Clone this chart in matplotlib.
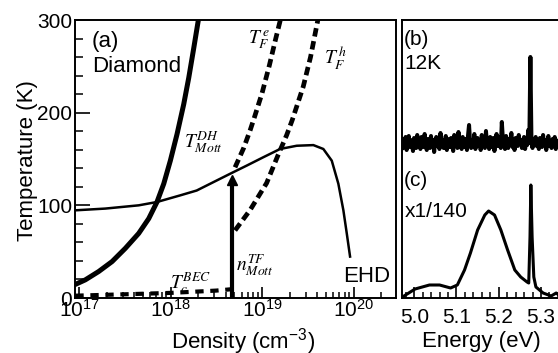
import numpy as np
import matplotlib
matplotlib.use("Agg")
import matplotlib.pyplot as plt
from matplotlib.ticker import MultipleLocator, LogLocator, NullFormatter

plt.rcParams["font.family"] = ["Liberation Sans", "DejaVu Sans"]

# ---- panel (a): temperature (K) vs log10 density ----
# T_Mott^DH (thick solid)
dh_logn = [16.956, 17.069, 17.215, 17.361, 17.506, 17.652, 17.762, 17.852, 17.926,
           17.998, 18.071, 18.144, 18.199, 18.254, 18.304]
dh_T = [14.5, 19.6, 28.6, 39.3, 53.6, 69.7, 85.7, 103.6, 123.3,
        148.2, 176.8, 209, 237.6, 269.8, 300]

# thin solid curve that ends at the EHD label
ehd_logn = [16.956, 17.287, 17.652, 17.852, 18.104, 18.286, 18.468, 18.650, 18.833,
            19.014, 19.197, 19.379, 19.561, 19.670, 19.762, 19.834, 19.889, 19.926, 19.962]
ehd_T = [94.6, 96.5, 100, 103.6, 110.7, 116, 125, 134, 142.9,
         151.9, 160.8, 164.3, 165, 160.8, 148.2, 123.3, 94.6, 69.7, 44.7]

# Fermi temperatures (thick dashed)
tfe_logn = [18.705, 18.80, 18.87, 18.92, 19.00, 19.08, 19.15, 19.20]
tfe_T = [141, 162, 181, 196, 221, 251, 280, 300]
tfh_logn = [18.705, 18.87, 19.05, 19.17, 19.27, 19.33, 19.45, 19.53, 19.61]
tfh_T = [73, 95, 124, 153, 176, 192, 228, 260, 300]

# BEC critical temperature (dashed, near the bottom)
bec_logn = [16.96, 17.5, 18.0, 18.5, 18.67]
bec_T = [2.5, 4, 5.5, 8, 9.5]

# Mott density (vertical line with arrow head)
mott_logn = 18.669
mott_T = 131

# ---- panels (b), (c): spectra, intensity in arbitrary units ----
b_E0, b_E1 = 4.972, 5.345
b_I = [150, 159, 153, 161, 148, 156, 162, 151, 158, 154,
       147, 160, 155, 150, 163, 152, 157, 149, 161, 155,
       151, 164, 154, 148, 159, 156, 150, 162, 153, 158,
       146, 157, 161, 152, 155, 149, 165, 153, 158, 150,
       156, 162, 148, 155, 159, 151, 160, 154, 147, 163,
       153, 157, 150, 166, 152, 158, 149, 161, 155, 151,
       159, 148, 162, 173, 155, 150, 158, 153, 164, 149,
       156, 160, 152, 157, 148, 163, 154, 159, 150, 167,
       153, 158, 149, 161, 155, 151, 160, 147, 157, 164,
       152, 156, 161, 150, 176, 158, 153, 149, 162, 155,
       150, 159, 154, 165, 151, 157, 148, 160, 155, 152,
       163, 154, 158, 150, 156, 161, 149, 157, 153, 168,
       155, 241, 157, 150, 159, 154, 161, 152, 156, 149,
       160, 155, 151, 163, 153, 158, 148, 157, 162, 152,
       156, 150, 159, 154, 161, 149, 157, 153, 158, 155]

c_E = [4.972, 5.002, 5.036, 5.060, 5.086, 5.102, 5.119, 5.133, 5.150, 5.167, 5.176,
       5.190, 5.205, 5.221, 5.238, 5.252, 5.267, 5.271, 5.274, 5.276, 5.279, 5.283,
       5.288, 5.305, 5.324, 5.336, 5.345]
c_I = [1, 9, 13, 13, 10, 13, 28, 45, 68, 83, 87,
       83, 68, 48, 28, 21, 16, 15, 61, 113, 61, 21,
       11, 5, 2, 5, 2]

fig = plt.figure(figsize=(5.58, 3.53), dpi=100)
W, H = 558.0, 353.0
ax = fig.add_axes([75 / W, 1 - 298 / H, 321 / W, 278 / H])
ax2 = fig.add_axes([402 / W, 1 - 298 / H, 158 / W, 278 / H])

dash = (1.8, 1.0)
ax.plot(10 ** np.array(dh_logn), dh_T, c="black", lw=3.6)
ax.plot(10 ** np.array(ehd_logn), ehd_T, c="black", lw=1.8)
ax.plot(10 ** np.array(tfe_logn), tfe_T, c="black", lw=3.4, dashes=dash)
ax.plot(10 ** np.array(tfh_logn), tfh_T, c="black", lw=3.4, dashes=dash)
ax.plot(10 ** np.array(bec_logn), bec_T, c="black", lw=3.0, dashes=(2.0, 1.6))
ax.plot([10 ** mott_logn] * 2, [0, mott_T - 5], c="black", lw=3.0)
ax.plot(10 ** mott_logn, mott_T - 4, marker="^", ms=6.5, c="black")

ax.set_xscale("log")
ax.set_xlim(10 ** 16.956, 10 ** 20.464)
ax.set_ylim(0, 300)
ax.set_yticks([0, 100, 200, 300])
ax.yaxis.set_minor_locator(MultipleLocator(20))
ax.xaxis.set_major_locator(LogLocator(base=10, numticks=10))
ax.xaxis.set_minor_locator(LogLocator(base=10, subs=np.arange(2, 10), numticks=20))
ax.xaxis.set_minor_formatter(NullFormatter())
ax.tick_params(axis="y", which="major", direction="in", length=11, width=1.2, labelsize=15, pad=2)
ax.tick_params(axis="y", which="minor", direction="in", length=6, width=1.1)
ax.tick_params(axis="x", which="major", direction="in", length=8, width=1.2, labelsize=15, pad=1)
ax.tick_params(axis="x", which="minor", direction="in", length=4.5, width=1.1)
for s in ax.spines.values():
    s.set_linewidth(1.4)


def lab(x, y, s, ha="left", va="baseline", size=16, math=False):
    kw = {"math_fontfamily": "stix"} if math else {}
    ax.text((x - 75) / 321, (298 - y) / 278, s, transform=ax.transAxes, fontsize=size,
            ha=ha, va=va, **kw)


lab(92, 47, "(a)")
lab(92, 72, "Diamond")
lab(343, 282, "EHD")
lab(259, 40, r"$T_F^{\,e}$", ha="center", va="center", size=14, math=True)
lab(336, 58, r"$T_F^{\,h}$", ha="center", va="center", size=14, math=True)
lab(203, 142, r"$T_{Mott}^{DH}$", ha="center", va="center", size=14, math=True)
lab(236, 265, r"$n_{Mott}^{TF}$", va="center", size=14, math=True)
lab(170, 283, r"$T_c^{BEC}$", va="center", size=14, math=True)

# right panel
b_E = np.linspace(b_E0, b_E1, len(b_I))
ax2.plot(b_E, b_I, c="black", lw=2.9)
ax2.plot(c_E, c_I, c="black", lw=2.2)
ax2.set_xlim(4.971, 5.345)
ax2.set_ylim(0, 278)
ax2.set_yticks([])
ax2.set_xticks([5.0, 5.1, 5.2, 5.3])
ax2.set_xticklabels(["5.0", "5.1", "5.2", "5.3"])
ax2.xaxis.set_minor_locator(MultipleLocator(0.02))
ax2.tick_params(axis="x", which="major", direction="in", length=8, width=1.2, labelsize=15, pad=7)
ax2.tick_params(axis="x", which="minor", direction="in", length=4.5, width=1.1)
ax2.spines["right"].set_visible(False)
for s in ax2.spines.values():
    s.set_linewidth(1.4)


def lab2(x, y, s):
    ax2.text((x - 402) / 156, (298 - y) / 278, s, transform=ax2.transAxes, fontsize=15,
             ha="left", va="baseline")


lab2(404, 45, "(b)")
lab2(404, 69, "12K")
lab2(404, 186, "(c)")
lab2(405, 217, "x1/140")

fig.text(28 / W, 1 - 161 / H, "Temperature (K)", rotation=90, ha="center", va="center", fontsize=16)
fig.text(243 / W, 1 - 342 / H, r"Density (cm$^{\mathregular{-3}}$)", ha="center", va="center", fontsize=16)
fig.text(481 / W, 1 - 342 / H, "Energy (eV)", ha="center", va="center", fontsize=16)

plt.savefig("out.png", dpi=100)
